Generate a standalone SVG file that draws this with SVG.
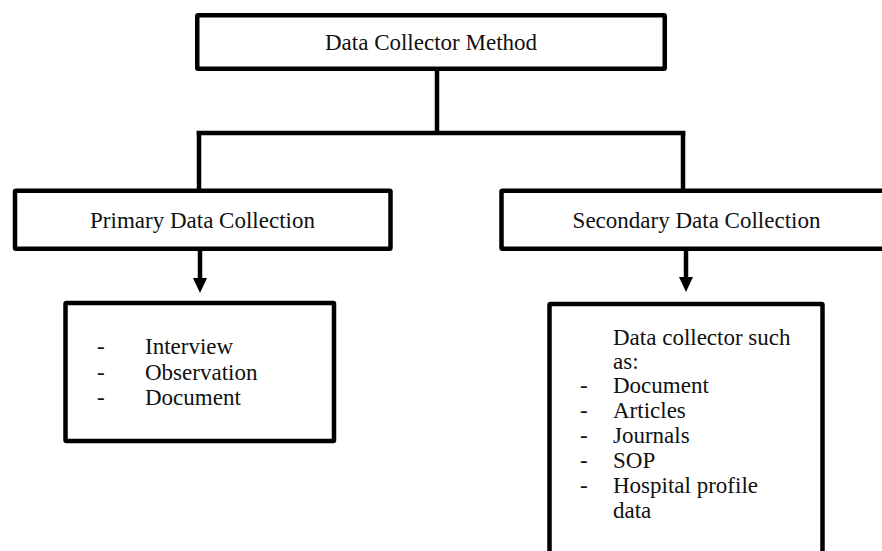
<svg xmlns="http://www.w3.org/2000/svg" width="882" height="551" viewBox="0 0 882 551">
  <defs>
    <style>
      .box { fill: #ffffff; stroke: #000000; stroke-width: 4.5; }
      .conn { fill: none; stroke: #000000; stroke-width: 4.5; }
      .txt { font-family: "Liberation Serif", "DejaVu Serif", serif; font-size: 23px; fill: #111111; }
      .mid { text-anchor: middle; }
    </style>
    <marker id="arrow" markerWidth="14" markerHeight="15" refX="7" refY="15" orient="auto-start-reverse" markerUnits="userSpaceOnUse" viewBox="0 0 14 15">
      <path d="M0,0 L14,0 L7,15 Z" fill="#000000"/>
    </marker>
  </defs>
  <rect width="882" height="551" fill="#ffffff"/>

  <g id="connectors">
    <line class="conn" x1="437" y1="70" x2="437" y2="133"/>
    <line class="conn" x1="196.75" y1="133" x2="685.25" y2="133"/>
    <line class="conn" x1="199" y1="131" x2="199" y2="190"/>
    <line class="conn" x1="683" y1="131" x2="683" y2="190"/>
    <path d="M200,250 L200,278" class="conn"/>
    <path d="M193,278 L207,278 L200,293 Z" fill="#000000"/>
    <path d="M686,250 L686,277" class="conn"/>
    <path d="M679,277 L693,277 L686,292 Z" fill="#000000"/>
  </g>

  <g id="node-method">
    <rect class="box" x="197.25" y="15.25" width="467.5" height="53.5" rx="1"/>
    <text class="txt mid" x="431" y="50">Data Collector Method</text>
  </g>

  <g id="node-primary">
    <rect class="box" x="15" y="190.75" width="375.5" height="58" rx="1"/>
    <text class="txt mid" x="202.5" y="228">Primary Data Collection</text>
  </g>

  <g id="node-secondary">
    <rect class="box" x="501.5" y="190.75" width="390" height="58" rx="1"/>
    <text class="txt mid" x="696.5" y="228">Secondary Data Collection</text>
  </g>

  <g id="node-primary-items">
    <rect class="box" x="65.5" y="303" width="268.5" height="138" rx="1"/>
    <text class="txt" x="97" y="354">-</text>
    <text class="txt" x="145" y="354">Interview</text>
    <text class="txt" x="97" y="379.5">-</text>
    <text class="txt" x="145" y="379.5">Observation</text>
    <text class="txt" x="97" y="405">-</text>
    <text class="txt" x="145" y="405">Document</text>
  </g>

  <g id="node-secondary-items">
    <rect class="box" x="549.5" y="304" width="273" height="260" rx="1"/>
    <text class="txt" x="613" y="345">Data collector such</text>
    <text class="txt" x="613" y="369">as:</text>
    <text class="txt" x="580" y="393">-</text>
    <text class="txt" x="613" y="393">Document</text>
    <text class="txt" x="580" y="418">-</text>
    <text class="txt" x="613" y="418">Articles</text>
    <text class="txt" x="580" y="443">-</text>
    <text class="txt" x="613" y="443">Journals</text>
    <text class="txt" x="580" y="468">-</text>
    <text class="txt" x="613" y="468">SOP</text>
    <text class="txt" x="580" y="493">-</text>
    <text class="txt" x="613" y="493">Hospital profile</text>
    <text class="txt" x="613" y="517.5">data</text>
  </g>
</svg>
